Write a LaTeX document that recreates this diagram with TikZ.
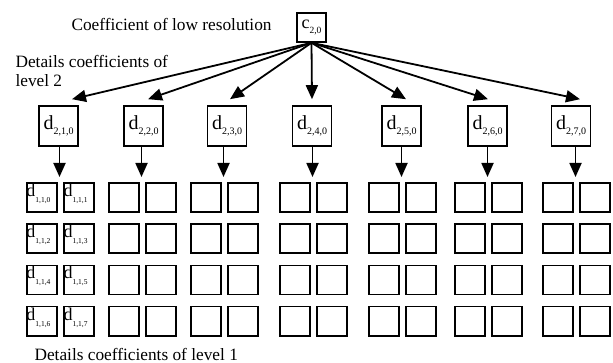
\documentclass[tikz,border=0pt]{standalone}
\usepackage{fontspec}
\setmainfont{Liberation Serif}
\usetikzlibrary{arrows.meta}

\begin{document}
\begin{tikzpicture}[x=1pt,y=-1pt,
  coef/.style={draw,line width=1.6pt,inner sep=0pt,minimum width=39pt,minimum height=40pt,font=\fontsize{20}{20}\selectfont},
  cell/.style={draw,line width=1.6pt,inner sep=0pt,minimum width=30pt,minimum height=29pt,anchor=north west},
  sub/.style={anchor=north west,inner sep=0pt,font=\fontsize{18}{18}\selectfont},
  lbl/.style={anchor=west,font=\fontsize{17.3}{19}\selectfont},
  arr/.style={line width=1.8pt,-{Triangle[length=14pt,width=12pt]}}]
\useasboundingbox (0,0) rectangle (613,363);

\node[coef,minimum width=29pt,minimum height=29pt,font=\fontsize{18}{18}\selectfont] (c20) at (311.5,27.5) {c\raisebox{-0.6ex}{\fontsize{9.5}{9.5}\selectfont 2,0}};
\node[lbl] (lowres) at (68,24) {Coefficient of low resolution};
\node[lbl,align=left] (lev2) at (12,70.5) {Details coefficients of\\level 2};

\foreach \x [count=\i] in {58.5,143.5,227,312,401.5,487.5,571}
  \node[coef] (d\i) at (\x,126) {d\raisebox{-0.55ex}{\fontsize{10}{10}\selectfont 2,\i,0}};

\foreach \i/\dx in {1/13.5,2/4.5,3/3,4/0,5/4.5,6/0.5,7/9}
  \draw[arr] (c20.south) -- ([xshift=\dx pt,yshift=6pt]d\i.north);

\foreach \x [count=\p] in {26,108,190,279,368,454,542} {
  \coordinate (top\p) at (\x+33.5,177);
  \foreach \r in {0,...,3} {
    \node[cell] (s\p-\r-a) at (\x,182+41.3*\r) {};
    \node[cell] (s\p-\r-b) at (\x+37,182+41.3*\r) {};
  }
}

\foreach \r in {0,...,3} {
  \pgfmathtruncatemacro{\ka}{2*\r}
  \pgfmathtruncatemacro{\kb}{2*\r+1}
  \node[sub] at ([xshift=0.3pt,yshift=-1.5pt]s1-\r-a.north west) {d\raisebox{-0.75ex}{\fontsize{7.5}{7.5}\selectfont 1,1,\ka}};
  \node[sub] at ([xshift=0.3pt,yshift=-1.5pt]s1-\r-b.north west) {d\raisebox{-0.75ex}{\fontsize{7.5}{7.5}\selectfont 1,1,\kb}};
}

\foreach \i in {1,...,7}
  \draw[arr] (d\i.south -| top\i) -- (top\i);

\node[lbl] (lev1) at (31,354) {Details coefficients of level 1};
\end{tikzpicture}
\end{document}
